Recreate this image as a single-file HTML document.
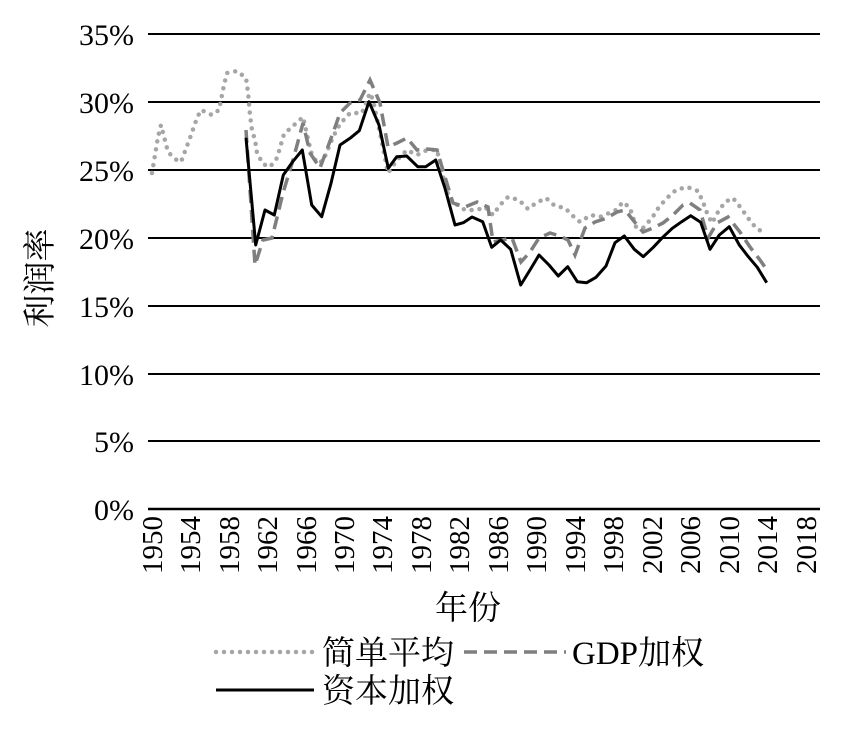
<!DOCTYPE html>
<html><head><meta charset="utf-8"><style>
body{margin:0;background:#fff}
svg text{font-family:"Liberation Serif","Noto Serif CJK SC",serif;fill:#000}
</style></head><body>
<svg width="848" height="725" viewBox="0 0 848 725" xmlns="http://www.w3.org/2000/svg">
<g stroke="#000" stroke-width="2">
<line x1="148" y1="34" x2="820" y2="34"/>
<line x1="148" y1="102" x2="820" y2="102"/>
<line x1="148" y1="170" x2="820" y2="170"/>
<line x1="148" y1="238" x2="820" y2="238"/>
<line x1="148" y1="306" x2="820" y2="306"/>
<line x1="148" y1="374" x2="820" y2="374"/>
<line x1="148" y1="441" x2="820" y2="441"/>
<line x1="148" y1="509" x2="820" y2="509" stroke-width="2.5"/>
</g>
<g font-size="30" text-anchor="end">
<text x="134" y="45">35%</text><text x="134" y="113">30%</text><text x="134" y="181">25%</text>
<text x="134" y="249">20%</text><text x="134" y="317">15%</text><text x="134" y="385">10%</text>
<text x="134" y="452">5%</text><text x="134" y="520">0%</text>
</g>
<g font-size="29" text-anchor="end">
<text transform="translate(162,516) rotate(-90)">1950</text>
<text transform="translate(200,516) rotate(-90)">1954</text>
<text transform="translate(239,516) rotate(-90)">1958</text>
<text transform="translate(277,516) rotate(-90)">1962</text>
<text transform="translate(316,516) rotate(-90)">1966</text>
<text transform="translate(354,516) rotate(-90)">1970</text>
<text transform="translate(392,516) rotate(-90)">1974</text>
<text transform="translate(431,516) rotate(-90)">1978</text>
<text transform="translate(469,516) rotate(-90)">1982</text>
<text transform="translate(508,516) rotate(-90)">1986</text>
<text transform="translate(546,516) rotate(-90)">1990</text>
<text transform="translate(585,516) rotate(-90)">1994</text>
<text transform="translate(623,516) rotate(-90)">1998</text>
<text transform="translate(662,516) rotate(-90)">2002</text>
<text transform="translate(700,516) rotate(-90)">2006</text>
<text transform="translate(739,516) rotate(-90)">2010</text>
<text transform="translate(777,516) rotate(-90)">2014</text>
<text transform="translate(816,516) rotate(-90)">2018</text>
</g>
<text x="468" y="619" font-size="33" text-anchor="middle">年份</text>
<text transform="translate(51,278) rotate(-90)" font-size="33" text-anchor="middle">利润率</text>

<polyline fill="none" stroke="#a6a6a6" stroke-width="4.5" stroke-linecap="round" stroke-dasharray="0 8" points="152,173 158,137 161,125 168,152 175,159 181,162 190,138 197,118 201,110 212,115 219,110 224,85 227,73 237,71 246,78 248,92 250,115 252,130 255,140 257,153 263,164 270,167 277,158 284,134 293,126 303,117 311,152 317,163 323,161 333,137 340,124 350,113 362,113 370,93 373,100 380,133 388,173 397,160 407,150 417,155 427,150 437,150 445,185 450,200 465,210 477,210 485,207 493,215 500,205 508,197 519,200 528,209 536,203 546,198 555,206 565,208 573,216 580,222 591,215 600,217 616,210 623,202 630,208 636,227 643,228 652,218 659,207 667,198 676,190 687,187 698,191 703,202 707,213 712,223 718,212 725,202 733,198 741,208 748,218 756,228 766,234"/>

<polyline fill="none" stroke="#7f7f7f" stroke-width="3.5" stroke-dasharray="13 7" points="246,130 255,265 263,240 272,238 283,193 293,160 303,123 310,153 320,168 333,133 340,113 350,103 360,100 370,80 380,103 388,147 397,143 407,138 417,150 427,149 437,150 445,177 453,203 465,207 477,202 488,207 493,242 502,240 512,238 521,262 530,252 539,238 550,233 560,236 568,240 575,255 585,228 595,222 607,218 617,212 625,210 633,220 643,232 653,228 663,223 673,215 683,205 690,203 700,210 708,238 717,223 728,217 740,232 750,247 760,260 767,270"/>

<polyline fill="none" stroke="#000" stroke-width="3" stroke-linejoin="round" points="246,137.7 255.7,245 265,210 274.3,215 283.3,175 292.7,161.7 302.3,150 311.7,205 321.7,216.7 331,183.3 340,145 350,138.3 359.3,130.7 369,101.7 379,125 388.3,168.3 396.7,156.7 406.7,156 417.7,166.7 425.7,166.7 435.7,160 445,188.3 455,225 463.3,222.7 472,217 482.7,221.7 491.7,247.3 500.7,240 510.7,249.3 520.7,285 530,270 539,255 549,265 558.3,276 567.7,266.7 577.3,281.7 586.7,282.7 596,277.3 606,266 615,242.7 624.3,236 634.3,249.3 643.3,256.7 653.3,247.3 662.7,237.3 672.3,228.3 681.7,221.7 690.7,215.7 700.7,222.3 710,249.3 719.3,235 729.3,226.7 739.3,245 748.3,256.7 757.3,267.3 766.7,282.7"/>

<line x1="216" y1="652" x2="314" y2="652" stroke="#a6a6a6" stroke-width="4.5" stroke-linecap="round" stroke-dasharray="0 8"/>
<text x="322" y="664" font-size="33">简单平均</text>
<line x1="464" y1="652" x2="566" y2="652" stroke="#7f7f7f" stroke-width="3.5" stroke-dasharray="13 7"/>
<text x="572" y="664" font-size="33">GDP加权</text>
<line x1="216" y1="690" x2="314" y2="690" stroke="#000" stroke-width="3"/>
<text x="322" y="702" font-size="33">资本加权</text>
</svg>
</body></html>
